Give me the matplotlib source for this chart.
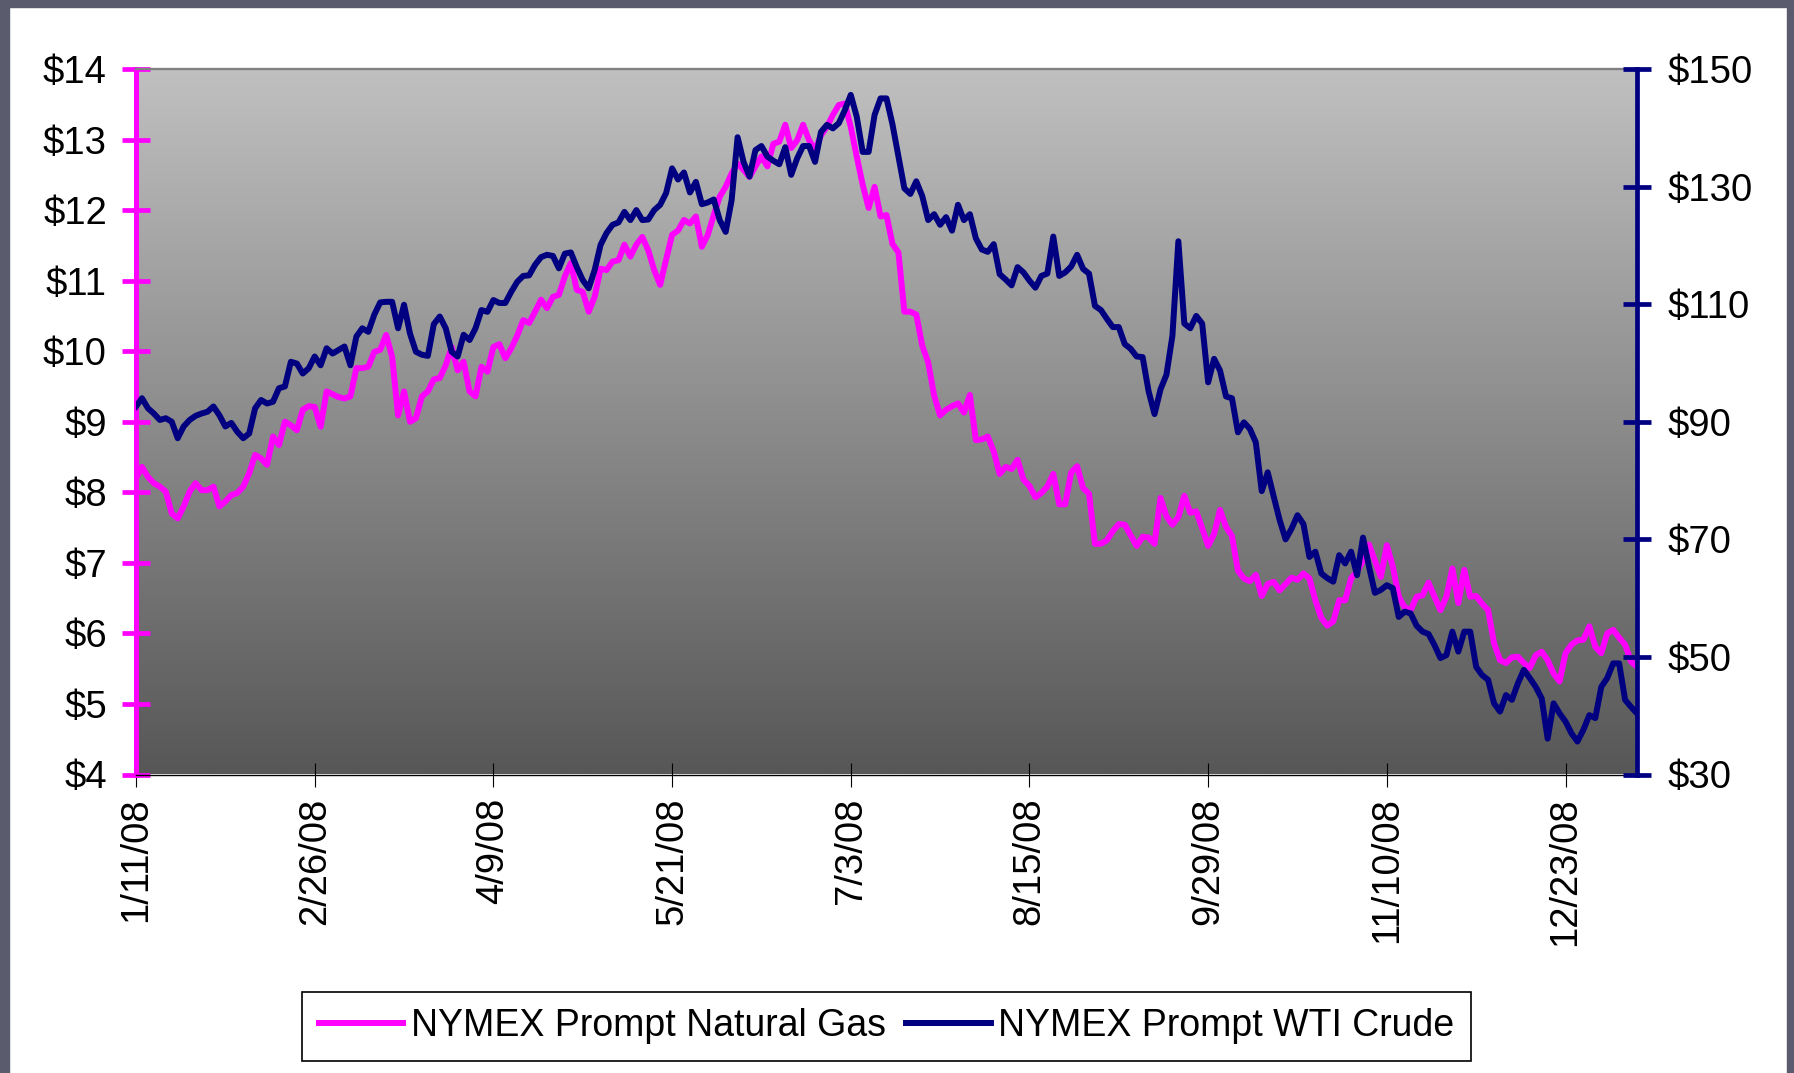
import numpy as np
import matplotlib
matplotlib.use("Agg")
import matplotlib.pyplot as plt
from matplotlib.colors import LinearSegmentedColormap
from matplotlib.patches import Rectangle
from matplotlib.lines import Line2D

plt.rcParams['font.family'] = ['Liberation Sans', 'DejaVu Sans']

tick_labels = ['1/11/08', '2/26/08', '4/9/08', '5/21/08', '7/3/08',
               '8/15/08', '9/29/08', '11/10/08', '12/23/08']

nat_gas = [
    8.20, 8.36, 8.22, 8.13, 8.08, 8.01, 7.70, 7.63, 7.80, 8.01,
    8.13, 8.03, 8.03, 8.08, 7.80, 7.87, 7.96, 7.99, 8.08, 8.27,
    8.53, 8.48, 8.39, 8.79, 8.67, 9.00, 8.95, 8.88, 9.17, 9.22,
    9.21, 8.93, 9.43, 9.39, 9.35, 9.33, 9.36, 9.76, 9.76, 9.78,
    9.99, 10.02, 10.23,
    9.92, 9.09, 9.43, 9.00, 9.05, 9.36, 9.43, 9.60, 9.62, 9.80,
    10.06, 9.73, 9.85, 9.43, 9.36, 9.78, 9.71, 10.06, 10.10, 9.90,
    10.04, 10.22, 10.44, 10.40, 10.56, 10.73, 10.61, 10.77, 10.80, 11.06,
    11.25, 10.87, 10.84, 10.56, 10.77, 11.17, 11.15, 11.27, 11.29, 11.51,
    11.34, 11.51,
    11.62, 11.43, 11.15, 10.94, 11.30, 11.65, 11.71, 11.86, 11.81, 11.91,
    11.48, 11.65, 11.93, 12.19, 12.33, 12.52, 12.66, 12.57, 12.47, 12.62,
    12.76, 12.62, 12.94, 12.97, 13.21, 12.88, 12.99, 13.21, 12.99, 12.85,
    13.06, 13.18, 13.35, 13.49, 13.51, 13.18, 12.76, 12.36, 12.03, 12.33,
    11.91, 11.93,
    11.52, 11.40, 10.56, 10.56, 10.52, 10.08, 9.84, 9.37, 9.09, 9.17,
    9.22, 9.26, 9.13, 9.38, 8.74, 8.75, 8.79, 8.58, 8.26, 8.36,
    8.33, 8.46, 8.18, 8.09, 7.93, 7.99, 8.08, 8.26, 7.83, 7.83,
    8.28, 8.37, 8.06, 7.98, 7.27, 7.27, 7.32, 7.45, 7.55, 7.54,
    7.39, 7.24,
    7.37, 7.36, 7.27, 7.92, 7.66, 7.54, 7.65, 7.95, 7.71, 7.73,
    7.49, 7.24, 7.41, 7.75, 7.51, 7.38, 6.89, 6.78, 6.74, 6.83,
    6.53, 6.70, 6.73, 6.61, 6.70, 6.79, 6.76, 6.85, 6.78, 6.47,
    6.22, 6.11, 6.17, 6.47, 6.47, 6.78, 6.88, 7.03, 7.26, 7.03,
    6.80, 7.25,
    6.95, 6.52, 6.37, 6.33, 6.52, 6.54, 6.72, 6.52, 6.33, 6.52,
    6.92, 6.43, 6.90, 6.52, 6.53, 6.42, 6.33, 5.86, 5.62, 5.58,
    5.66, 5.67, 5.58, 5.51, 5.69, 5.74, 5.62, 5.43, 5.32, 5.72,
    5.84, 5.90, 5.91, 6.10, 5.81, 5.72, 6.00, 6.05, 5.94, 5.84,
    5.60, 5.53,
]

wti_crude = [
    92.6, 94.0, 92.3, 91.4, 90.3, 90.6, 90.0, 87.2, 89.2, 90.3,
    91.0, 91.4, 91.7, 92.6, 91.1, 89.2, 89.8, 88.3, 87.2, 88.0,
    92.3, 93.7, 93.1, 93.4, 95.7, 96.0, 100.2, 99.9, 98.2, 99.1,
    101.1, 99.6, 102.5, 101.6, 102.2, 102.8, 99.6, 104.5, 105.9, 105.3,
    108.2,
    110.3, 110.4, 110.4, 105.9, 109.9, 105.0, 101.9, 101.4, 101.2, 106.6,
    107.9, 105.9, 101.9, 101.1, 104.8, 103.9, 105.9, 109.0, 108.7, 110.7,
    110.2, 110.2, 112.1, 113.8, 114.8, 114.9, 116.7, 118.0, 118.4, 118.2,
    116.1, 118.6, 118.8, 116.3, 114.1, 112.7, 115.8, 120.1, 122.1, 123.5,
    123.9, 125.7, 124.3, 126.0,
    124.3, 124.4, 126.0, 126.9, 128.9, 133.1, 131.2, 132.4, 129.0, 130.8,
    127.0, 127.3, 127.8, 124.3, 122.3, 127.7, 138.4, 134.2, 131.7, 136.2,
    136.9, 135.1, 134.4, 133.8, 136.7, 132.0, 134.8, 136.9, 136.9, 134.2,
    139.3, 140.5, 139.9, 140.8, 143.0, 145.6, 141.9, 135.9, 135.9, 142.2,
    145.0, 145.0,
    140.6, 135.1, 129.7, 128.75, 130.9, 128.4, 124.3, 125.3, 123.5, 124.8,
    122.5, 126.9, 124.3, 125.3, 121.2, 119.3, 118.9, 120.2, 115.1, 114.2,
    113.2, 116.3, 115.4, 114.0, 112.8, 114.8, 115.2, 121.5, 114.8, 115.4,
    116.4, 118.4, 116.0, 115.2, 109.7, 109.0, 107.5, 106.1, 106.1, 103.2,
    102.4, 101.1,
    101.0, 95.2, 91.3, 95.5, 98.0, 104.6, 120.7, 106.7, 105.9, 108.0,
    106.7, 96.7, 100.7, 98.7, 94.3, 94.0, 88.2, 89.9, 88.8, 86.5,
    78.2, 81.4, 77.3, 73.3, 70.0, 71.8, 74.1, 72.6, 67.0, 67.9,
    64.2, 63.4, 62.8, 67.3, 65.9, 67.9, 63.9, 70.3, 65.4, 60.9,
    61.4, 62.2,
    61.7, 56.8, 57.7, 57.4, 55.3, 54.3, 53.9, 52.0, 49.8, 50.3,
    54.3, 50.9, 54.3, 54.3, 48.3, 46.9, 46.1, 42.1, 40.7, 43.5,
    42.7, 45.5, 47.8, 46.4, 44.9, 42.95, 36.1, 42.1, 40.4, 39.0,
    37.0, 35.6, 37.6, 40.1, 39.6, 44.9, 46.4, 48.9, 48.9, 42.7,
    41.5, 40.4,
]

gas_ticks = list(range(4, 15))
crude_ticks = list(range(30, 151, 20))
label_every = 30

MAGENTA = '#FF00FF'
NAVY = '#000080'

W, H = 1794, 1073
fig = plt.figure(figsize=(W / 100, H / 100), dpi=100)
fig.patch.set_facecolor('white')

# dark frame around the slide
frame_col = '#5a5b6c'
fig.add_artist(Rectangle((0, 0), 9 / W, 1, transform=fig.transFigure, color=frame_col, zorder=-5))
fig.add_artist(Rectangle((0, 1 - 7 / H), 1, 7 / H, transform=fig.transFigure, color=frame_col, zorder=-5))
fig.add_artist(Rectangle((1 - 7 / W, 0), 7 / W, 1, transform=fig.transFigure, color=frame_col, zorder=-5))

left, right, top, bottom = 136, 1637, 69, 774.5
ax = fig.add_axes([left / W, 1 - bottom / H, (right - left) / W, (bottom - top) / H])

x = np.arange(len(nat_gas))
x2 = np.arange(len(wti_crude))

# gradient background
cmap = LinearSegmentedColormap.from_list('bg', ['#c0c0c0', '#575757'])
grad = np.linspace(0, 1, 256).reshape(-1, 1)
ax.imshow(grad, extent=[0, 1, 0, 1], transform=ax.transAxes, aspect='auto',
          cmap=cmap, zorder=0, interpolation='bilinear')

LW = 4.3
ax.plot(x, nat_gas, color=MAGENTA, lw=LW, zorder=3, solid_joinstyle='round')
ax.set_xlim(0, len(nat_gas) - 1)
ax.set_ylim(4, 14)
ax.set_yticks(gas_ticks)
ax.set_yticklabels([f'${v}' for v in gas_ticks])
xt = list(range(0, len(nat_gas), label_every))[:len(tick_labels)]
ax.set_xticks(xt)
ax.set_xticklabels(tick_labels, rotation=90)

FS = 27.5
ax.tick_params(axis='y', direction='inout', length=20, width=3.4, color=MAGENTA,
               labelcolor='black', labelsize=FS, pad=11)
ax.tick_params(axis='x', direction='inout', length=17, width=0.8, color='black',
               labelsize=FS, pad=8)

ax.spines['left'].set_color(MAGENTA)
ax.spines['left'].set_linewidth(3.6)
ax.spines['top'].set_color('#808080')
ax.spines['top'].set_linewidth(1.7)
ax.spines['bottom'].set_color('black')
ax.spines['bottom'].set_linewidth(1.0)
ax.spines['right'].set_visible(False)

ax2 = ax.twinx()
ax2.plot(x2, wti_crude, color=NAVY, lw=LW, zorder=3, solid_joinstyle='round')
ax2.set_ylim(30, 150)
ax2.set_xlim(0, len(nat_gas) - 1)
ax2.set_yticks(crude_ticks)
ax2.set_yticklabels([f'${v}' for v in crude_ticks])
ax2.tick_params(axis='y', direction='inout', length=20, width=3.4, color=NAVY,
                labelcolor='black', labelsize=FS, pad=12)
for s in ['left', 'top', 'bottom']:
    ax2.spines[s].set_visible(False)
ax2.spines['right'].set_color(NAVY)
ax2.spines['right'].set_linewidth(3.4)

handles = [Line2D([], [], color=MAGENTA, lw=LW),
           Line2D([], [], color=NAVY, lw=LW)]
labels = ['NYMEX Prompt Natural Gas', 'NYMEX Prompt WTI Crude']
leg = fig.legend(handles, labels, loc='center', bbox_to_anchor=(886.5 / W, 1 - 1026.5 / H),
                 ncol=2, frameon=True, fancybox=False, edgecolor='black', framealpha=1,
                 fontsize=27, handlelength=2.25, handletextpad=0.2, columnspacing=0.55,
                 borderpad=0.45, borderaxespad=0)
leg.get_frame().set_linewidth(1.2)

fig.savefig('out.png', dpi=100, facecolor='white')
